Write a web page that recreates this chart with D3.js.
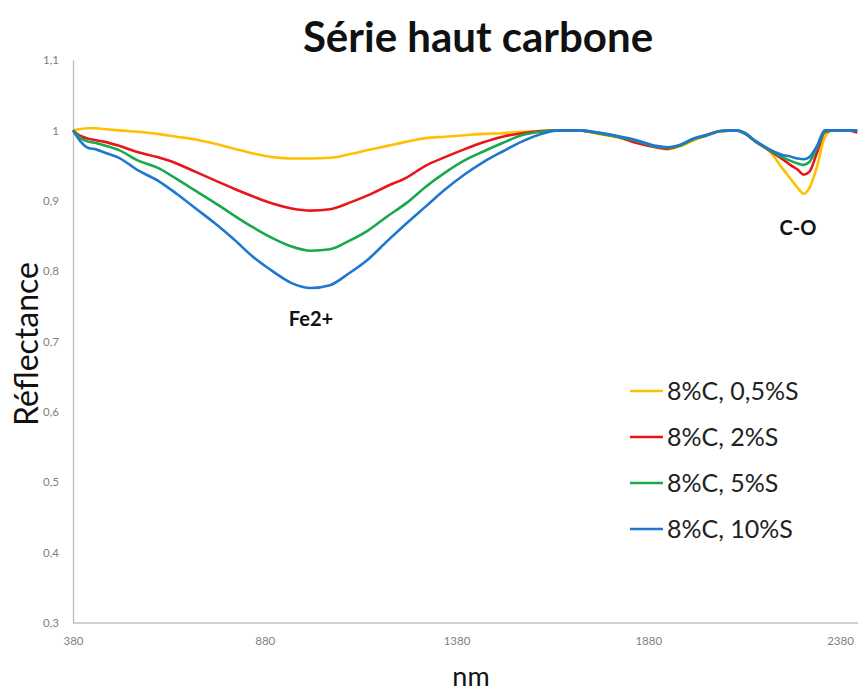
<!DOCTYPE html>
<html>
<head>
<meta charset="utf-8">
<script src="https://cdn.jsdelivr.net/npm/d3@7/dist/d3.min.js"></script>
<style>
  html, body { margin: 0; padding: 0; background: #fff; }
  svg { display: block; font-family: "Lato", "Open Sans", sans-serif; }
</style>
</head>
<body>
<svg id="chart" width="860" height="692"></svg>
<script>
// Wavelength grid (nm)
const wavelengths = [380, 400, 420, 440, 460, 500, 550, 600, 650, 700, 750, 800, 850, 900, 950,
  1000, 1050, 1100, 1150, 1200, 1250, 1300, 1350, 1400, 1450, 1500, 1550, 1600, 1650, 1700,
  1750, 1800, 1850, 1900, 1930, 1960, 2000, 2030, 2070, 2110, 2130, 2160, 2200, 2230, 2250,
  2270, 2285, 2300, 2320, 2340, 2360, 2400, 2425];

// Reflectance per sample
const refl_05S = [1.000, 1.002, 1.003, 1.003, 1.002, 1.000, 0.998, 0.995, 0.991, 0.987, 0.981, 0.974, 0.967, 0.962, 0.960,
  0.960, 0.961, 0.966, 0.972, 0.978, 0.984, 0.989, 0.991, 0.993, 0.995, 0.996, 0.998, 0.999, 1.000, 1.000,
  0.995, 0.990, 0.984, 0.976, 0.973, 0.977, 0.986, 0.993, 0.999, 1.000, 0.996, 0.984, 0.968, 0.946, 0.932,
  0.918, 0.910, 0.918, 0.948, 0.990, 1.000, 1.000, 1.000];
const refl_2S = [1.000, 0.992, 0.988, 0.986, 0.984, 0.978, 0.969, 0.962, 0.953, 0.941, 0.929, 0.917, 0.906, 0.896, 0.889,
  0.886, 0.888, 0.897, 0.908, 0.921, 0.933, 0.950, 0.962, 0.973, 0.983, 0.991, 0.996, 0.999, 1.000, 1.000,
  0.996, 0.991, 0.982, 0.976, 0.974, 0.978, 0.988, 0.993, 0.999, 1.000, 0.996, 0.984, 0.970, 0.959, 0.951,
  0.944, 0.937, 0.941, 0.968, 0.997, 1.000, 1.000, 0.997];
const refl_5S = [1.000, 0.989, 0.984, 0.982, 0.979, 0.972, 0.957, 0.947, 0.931, 0.914, 0.897, 0.879, 0.862, 0.847, 0.835,
  0.829, 0.831, 0.843, 0.858, 0.878, 0.897, 0.920, 0.940, 0.957, 0.970, 0.982, 0.993, 0.998, 1.000, 1.000,
  0.996, 0.991, 0.985, 0.977, 0.975, 0.978, 0.988, 0.992, 0.999, 1.000, 0.996, 0.984, 0.971, 0.962, 0.957,
  0.953, 0.951, 0.955, 0.975, 0.998, 1.000, 1.000, 1.000];
const refl_10S = [1.000, 0.984, 0.975, 0.973, 0.969, 0.961, 0.943, 0.929, 0.910, 0.889, 0.868, 0.845, 0.820, 0.800, 0.783,
  0.776, 0.780, 0.797, 0.817, 0.843, 0.868, 0.892, 0.916, 0.937, 0.955, 0.970, 0.984, 0.995, 1.000, 1.000,
  0.997, 0.992, 0.986, 0.978, 0.976, 0.979, 0.989, 0.993, 0.999, 1.000, 0.997, 0.985, 0.972, 0.965, 0.963,
  0.960, 0.959, 0.962, 0.978, 1.000, 1.000, 1.000, 1.000];

const seriesNames = ["8%C, 0,5%S", "8%C, 2%S", "8%C, 5%S", "8%C, 10%S"];
const seriesColors = ["#FFC000", "#E8151B", "#19A84B", "#1F77CF"];
const seriesValues = [refl_05S, refl_2S, refl_5S, refl_10S];

const xTicks = [380, 880, 1380, 1880, 2380];
const yTicks = [0.3, 0.4, 0.5, 0.6, 0.7, 0.8, 0.9, 1.0, 1.1];

const svg = d3.select("#chart");

const x = d3.scaleLinear().domain([380, 2380]).range([73, 840]);
const y = d3.scaleLinear().domain([0.3, 1.1]).range([623, 60]);

const fr = d3.formatLocale({ decimal: ",", thousands: " ", grouping: [3], currency: ["", " €"] });
const yFmt = v => fr.format("~g")(+v.toFixed(1));

// Axes
const yAxis = svg.append("g")
  .attr("transform", `translate(${x(380)},0)`)
  .call(d3.axisLeft(y).tickValues(yTicks).tickSize(0).tickPadding(14).tickFormat(yFmt));
yAxis.select(".domain").attr("stroke", "#bfbfbf").attr("stroke-width", 1.3);
yAxis.selectAll("text").attr("fill", "#7f7f7f").style("font-size", "11.5px").style("font-family", "Lato");

const xAxis = svg.append("g")
  .attr("transform", `translate(0,${y(0.3)})`)
  .call(d3.axisBottom(x).tickValues(xTicks).tickSize(0).tickPadding(14).tickFormat(d3.format("d")));
xAxis.select(".domain").remove();
xAxis.append("line")
  .attr("x1", x(380)).attr("x2", 858).attr("y1", 0).attr("y2", 0)
  .attr("stroke", "#bfbfbf").attr("stroke-width", 1.3);
xAxis.selectAll("text").attr("fill", "#7f7f7f").style("font-size", "11.5px").style("font-family", "Lato");

// Spectra
const line = d3.line()
  .x((d, i) => x(wavelengths[i]))
  .y(d => y(d))
  .curve(d3.curveMonotoneX);

svg.append("g").selectAll("path")
  .data(seriesValues)
  .join("path")
  .attr("d", line)
  .attr("fill", "none")
  .attr("stroke", (d, i) => seriesColors[i])
  .attr("stroke-width", 2.6)
  .attr("stroke-linejoin", "round");

// Title and axis titles
svg.append("text")
  .attr("x", 478).attr("y", 52)
  .attr("text-anchor", "middle")
  .style("font-size", "42px").style("font-weight", "bold")
  .attr("fill", "#111")
  .text("Série haut carbone");

svg.append("text")
  .attr("transform", "translate(38,344) rotate(-90)")
  .attr("text-anchor", "middle")
  .style("font-size", "32px")
  .attr("fill", "#111")
  .text("Réflectance");

svg.append("text")
  .attr("x", 471).attr("y", 686)
  .attr("text-anchor", "middle")
  .style("font-size", "27px")
  .attr("fill", "#111")
  .text("nm");

// Band annotations
svg.append("text")
  .attr("x", 311).attr("y", 326)
  .attr("text-anchor", "middle")
  .style("font-size", "20px").style("font-weight", "bold")
  .attr("fill", "#111")
  .text("Fe2+");

svg.append("text")
  .attr("x", 798).attr("y", 235)
  .attr("text-anchor", "middle")
  .style("font-size", "20px").style("font-weight", "bold")
  .attr("fill", "#111")
  .text("C-O");

// Legend
const legend = svg.append("g").attr("transform", "translate(630,391)");
const rows = legend.selectAll("g")
  .data(seriesNames)
  .join("g")
  .attr("transform", (d, i) => `translate(0,${i * 46})`);
rows.append("line")
  .attr("x1", 0).attr("x2", 33).attr("y1", 0).attr("y2", 0)
  .attr("stroke", (d, i) => seriesColors[i]).attr("stroke-width", 2.6);
rows.append("text")
  .attr("x", 37).attr("y", 0).attr("dy", "0.35em")
  .style("font-size", "25px")
  .attr("fill", "#222")
  .text(d => d);
</script>
</body>
</html>
